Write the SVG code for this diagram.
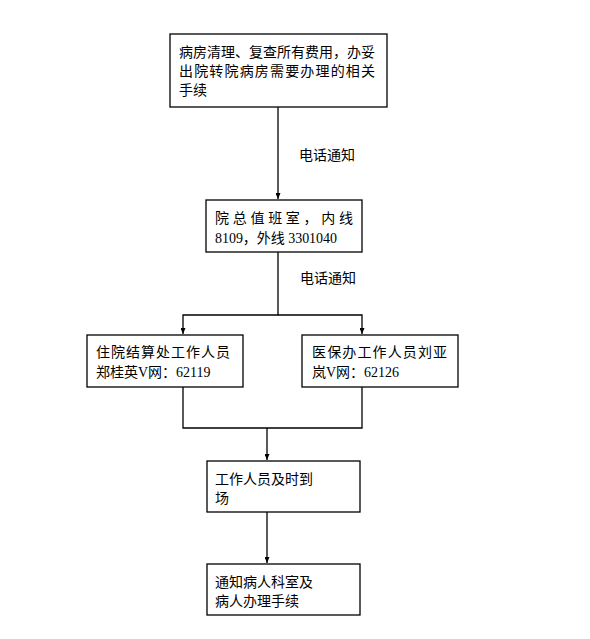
<svg xmlns="http://www.w3.org/2000/svg" width="590" height="639" viewBox="0 0 590 639">
<style>
.box{fill:#fff;stroke:#000;stroke-width:1.3}
.t{font-family:"Liberation Serif","Noto Sans CJK SC",serif;font-size:14px;fill:#000}
.c{fill:none;stroke:#000;stroke-width:1.3}
</style>
<defs>
<marker id="ah" viewBox="0 0 6 5" refX="6" refY="2.5" markerWidth="6" markerHeight="5" orient="auto" markerUnits="userSpaceOnUse">
<path d="M0,0 L6,2.5 L0,5 Z" fill="#000"/>
</marker>
</defs>
<rect width="590" height="639" fill="#fff"/>
<g id="connectors">
<line class="c" x1="278" y1="107" x2="278" y2="199" marker-end="url(#ah)"/>
<polyline class="c" points="278,252 278,315 183,315 183,334" marker-end="url(#ah)"/>
<polyline class="c" points="278,315 362,315 362,334" marker-end="url(#ah)"/>
<polyline class="c" points="183,387 183,428 362,428 362,387"/>
<line class="c" x1="267" y1="428" x2="267" y2="460" marker-end="url(#ah)"/>
<line class="c" x1="267" y1="512" x2="267" y2="563" marker-end="url(#ah)"/>
<text class="t" x="299" y="160">电话通知</text>
<text class="t" x="300" y="283">电话通知</text>
</g>
<g id="n1">
<rect class="box" x="170" y="34" width="217" height="73"/>
<text class="t" x="179" y="57" textLength="196">病房清理、复查所有费用，办妥</text>
<text class="t" x="179" y="76" textLength="196">出院转院病房需要办理的相关</text>
<text class="t" x="179" y="95">手续</text>
</g>
<g id="n2">
<rect class="box" x="206" y="200" width="156" height="52"/>
<text class="t" x="215" y="223" textLength="138">院总值班室，内线</text>
<text class="t" x="215" y="243" textLength="122">8109，外线 3301040</text>
</g>
<g id="n3">
<rect class="box" x="87" y="335" width="156" height="52"/>
<text class="t" x="96" y="357" textLength="134">住院结算处工作人员</text>
<text class="t" x="96" y="377">郑桂英V网：62119</text>
</g>
<g id="n4">
<rect class="box" x="302" y="335" width="156" height="52"/>
<text class="t" x="312" y="357" textLength="135">医保办工作人员刘亚</text>
<text class="t" x="312" y="377">岚V网：62126</text>
</g>
<g id="n5">
<rect class="box" x="207" y="461" width="153" height="51"/>
<text class="t" x="215" y="484">工作人员及时到</text>
<text class="t" x="215" y="503">场</text>
</g>
<g id="n6">
<rect class="box" x="207" y="564" width="153" height="51"/>
<text class="t" x="215" y="587">通知病人科室及</text>
<text class="t" x="215" y="606">病人办理手续</text>
</g>
</svg>
